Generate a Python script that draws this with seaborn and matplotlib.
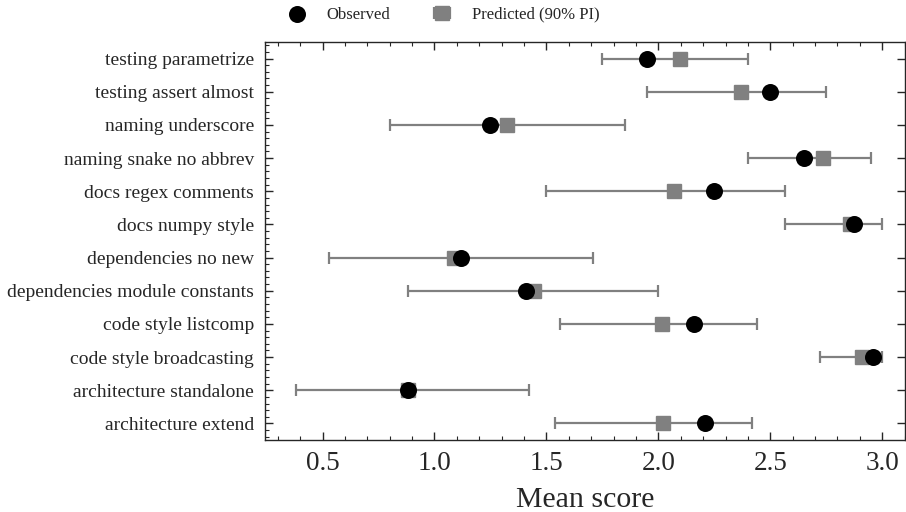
import matplotlib
matplotlib.use("Agg")
import matplotlib.pyplot as plt
from matplotlib.ticker import AutoMinorLocator, MultipleLocator
import seaborn as sns
import numpy as np
import pandas as pd

categories = [
    "architecture extend",
    "architecture standalone",
    "code style broadcasting",
    "code style listcomp",
    "dependencies module constants",
    "dependencies no new",
    "docs numpy style",
    "docs regex comments",
    "naming snake no abbrev",
    "naming underscore",
    "testing assert almost",
    "testing parametrize",
]
observed = [2.21, 0.88, 2.96, 2.16, 1.41, 1.12, 2.875, 2.25, 2.65, 1.25, 2.50, 1.95]
predicted = [2.02, 0.88, 2.91, 2.015, 1.445, 1.085, 2.855, 2.07, 2.735, 1.325, 2.37, 2.095]
pi_low = [1.54, 0.38, 2.72, 1.56, 0.88, 0.53, 2.565, 1.50, 2.40, 0.80, 1.95, 1.75]
pi_high = [2.42, 1.42, 3.00, 2.44, 2.00, 1.71, 3.00, 2.565, 2.95, 1.85, 2.75, 2.40]

df = pd.DataFrame({
    "category": categories,
    "observed": observed,
    "predicted": predicted,
    "lo": pi_low,
    "hi": pi_high,
})

sns.set_style("ticks")
plt.rcParams["font.family"] = ["Liberation Serif", "DejaVu Serif"]
plt.rcParams["mathtext.fontset"] = "stix"

fig = plt.figure(figsize=(9.06, 5.12), dpi=100)
ax = fig.add_axes([0.2925, 0.1406, 0.706, 0.7774])

xerr = np.vstack([df["predicted"] - df["lo"], df["hi"] - df["predicted"]])
ax.errorbar(df["predicted"], df["category"], xerr=xerr, fmt="s", color="#808080",
            ecolor="#808080", markersize=10, elinewidth=1.6, capsize=4.5,
            capthick=1.6, label="Predicted (90% PI)", zorder=2)
sns.scatterplot(data=df, x="observed", y="category", ax=ax, color="black",
                s=150, marker="o", edgecolor="black", linewidth=0,
                label="Observed", zorder=3)

ax.set_xlim(0.243, 3.1)
ax.set_ylim(-0.5, len(categories) - 0.5)
ax.xaxis.set_major_locator(MultipleLocator(0.5))
ax.xaxis.set_minor_locator(AutoMinorLocator(5))
ax.yaxis.set_minor_locator(AutoMinorLocator(5))
ax.tick_params(which="both", direction="in", top=True, right=True)
ax.tick_params(which="major", length=6, width=1.0)
ax.tick_params(which="minor", length=3, width=0.8)
ax.tick_params(axis="y", which="minor", right=False)
ax.tick_params(axis="x", labelsize=19.5, pad=8)
ax.tick_params(axis="y", labelsize=14, pad=8)
for s in ax.spines.values():
    s.set_linewidth(1.0)

ax.set_xlabel("Mean score", fontsize=21.5, labelpad=8)
ax.set_ylabel("")

handles, labels = ax.get_legend_handles_labels()
order = [labels.index("Observed"), labels.index("Predicted (90% PI)")]
if ax.get_legend() is not None:
    ax.get_legend().remove()
fig.legend([handles[i] for i in order], [labels[i] for i in order],
           loc="center", bbox_to_anchor=(0.49, 0.971), ncol=2, frameon=False,
           fontsize=12, handlelength=1.0, handletextpad=1.3, columnspacing=2.6)

fig.savefig("out.png", dpi=100)
